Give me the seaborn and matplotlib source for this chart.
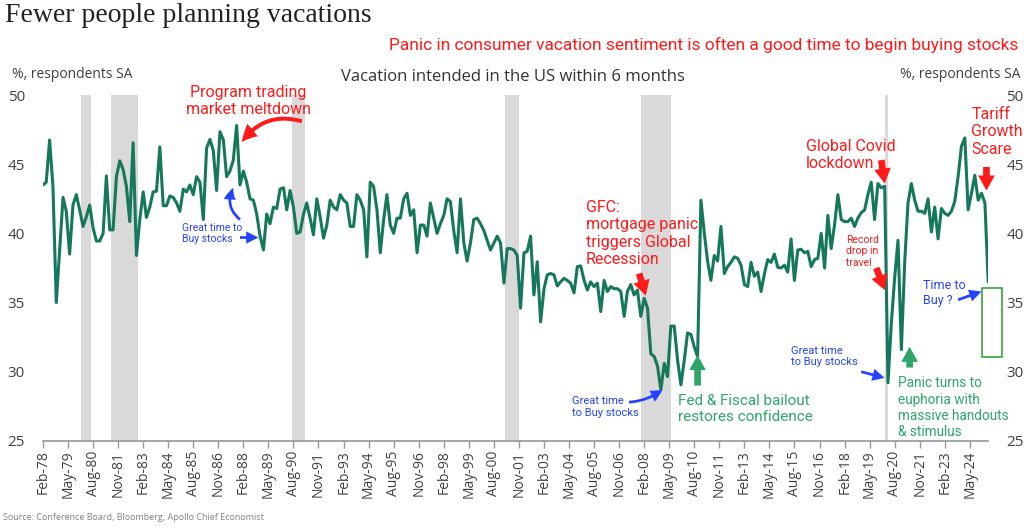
import pandas as pd
import matplotlib
matplotlib.use('Agg')
import matplotlib.pyplot as plt
import matplotlib.dates as mdates
from matplotlib.patches import Rectangle
import seaborn as sns

# ------------------------------------------------------------
# DATA  (bimonthly readings, Feb-78 .. Apr-25, % respondents SA)
# ------------------------------------------------------------
vacation_pct = [
    43.5, 43.7, 46.75, 43.4, 35.0, 38.8, 42.6, 41.6, 38.5, 42.05,
    42.8, 41.7, 40.5, 41.2, 42.05, 40.4, 39.45, 39.45, 40.0, 44.15,
    40.25, 40.25, 44.1, 45.25, 44.6, 43.4, 40.85, 46.55, 38.4, 41.0,
    43.0, 41.15, 41.9, 43.0, 43.05, 46.25, 42.0, 42.0, 42.7, 42.6,
    42.2, 41.6, 43.2, 43.0, 43.5, 42.8, 44.1, 43.7, 41.0, 46.15,
    46.8, 46.0, 43.1, 47.35, 46.75, 44.1, 44.5, 45.3, 47.8, 43.5,
    44.5, 43.7, 42.5, 42.4, 41.4, 39.8, 38.8, 41.4, 40.7, 41.9,
    41.8, 43.2, 43.3, 41.7, 43.1, 41.9, 40.0, 40.1, 41.4, 42.2,
    41.1, 39.9, 42.5, 41.2, 39.65, 40.6, 42.4, 41.9, 41.7, 42.8,
    42.4, 42.2, 40.5, 40.5, 42.8, 42.4, 41.7, 38.3, 43.7, 43.4,
    41.7, 38.6, 41.0, 42.8, 40.6, 40.0, 41.1, 41.1, 42.5, 42.9,
    41.3, 41.7, 38.6, 40.6, 40.6, 39.8, 42.2, 41.1, 40.0, 40.7,
    41.3, 42.5, 42.3, 40.2, 38.6, 42.5, 39.3, 38.0, 39.3, 41.0,
    41.1, 40.7, 40.2, 39.5, 38.8, 39.3, 39.8, 39.3, 36.4, 38.9,
    38.9, 38.8, 38.4, 34.6, 38.6, 38.7, 39.8, 35.55, 37.95, 33.6,
    36.0, 37.0, 37.1, 37.0, 36.2, 36.5, 36.75, 36.6, 36.4, 35.7,
    37.6, 37.65, 36.6, 35.9, 36.5, 36.15, 36.4, 34.35, 36.6, 35.8,
    36.15, 36.0, 36.0, 35.8, 34.0, 35.8, 36.3, 35.55, 35.9, 34.0,
    35.3, 34.6, 31.3, 31.1, 30.4, 28.7, 30.6, 29.65, 33.3, 33.3,
    30.85, 29.05, 30.85, 32.8, 32.7, 31.8, 31.1, 42.4, 40.0, 38.0,
    36.6, 38.4, 38.0, 40.5, 37.1, 37.6, 37.9, 38.3, 38.2, 37.7,
    36.3, 36.15, 37.9, 36.9, 37.2, 35.8, 37.1, 38.1, 37.9, 38.5,
    37.55, 37.5, 37.7, 37.2, 39.6, 36.6, 38.8, 38.85, 38.6, 38.7,
    37.6, 38.1, 38.2, 40.0, 37.5, 41.3, 38.9, 40.6, 42.8, 41.0,
    40.85, 40.85, 41.1, 40.5, 41.1, 41.5, 41.7, 42.8, 43.7, 41.0,
    43.6, 43.3, 43.4, 29.2, 33.5, 36.8, 39.5, 31.6, 38.0, 42.2,
    43.6, 42.4, 41.6, 41.6, 41.45, 42.5, 40.1, 41.9, 39.6, 41.8,
    41.45, 41.3, 41.6, 42.3, 44.1, 46.3, 46.9, 41.7, 42.9, 44.2,
    42.4, 42.9, 42.2, 36.5,
]
dates = pd.date_range('1978-02-01', periods=len(vacation_pct), freq='2MS')

recession_start = ['1980-01-01', '1981-07-01', '1990-07-01', '2001-03-01', '2007-12-01', '2020-02-01']
recession_end = ['1980-07-01', '1982-11-01', '1991-03-01', '2001-11-01', '2009-06-01', '2020-04-01']

tick_dates = pd.date_range('1978-02-01', '2024-05-01', freq='15MS')
y_ticks = [25, 30, 35, 40, 45, 50]

# ------------------------------------------------------------
# STYLE
# ------------------------------------------------------------
sns.set_theme(style='white')
plt.rcParams['font.family'] = ['Open Sans', 'DejaVu Sans']

LINE_COL = '#16785b'
RED = '#ff1a1a'
BLUE = '#2443ff'
GREEN = '#2ea66a'
ANNO_FONT = ['Roboto', 'DejaVu Sans']

fig = plt.figure(figsize=(10.24, 5.28), dpi=100)
ax = fig.add_axes([0.042, 0.165, 0.923, 0.655])

for s, e in zip(recession_start, recession_end):
    ax.axvspan(pd.Timestamp(s), pd.Timestamp(e), color='#d9d9d9', lw=0, zorder=0)

df = pd.DataFrame({'date': dates, 'pct': vacation_pct})
sns.lineplot(data=df, x='date', y='pct', ax=ax, color=LINE_COL, lw=2.2, zorder=3)

ax.set_xlim(dates[0], dates[-1])
ax.set_ylim(25, 50)
ax.set_xticks(tick_dates)
ax.xaxis.set_major_formatter(mdates.DateFormatter('%b-%y'))
ax.tick_params(axis='x', rotation=90, labelsize=10, labelcolor='#404040',
               color='#9a9a9a', length=5, width=1, direction='out', bottom=True, pad=2)
ax.set_yticks(y_ticks)
ax.tick_params(axis='y', labelleft=True, labelright=True, left=False, right=False,
               labelsize=11, labelcolor='#404040', pad=7)
for sp in ['left', 'right', 'top']:
    ax.spines[sp].set_visible(False)
ax.spines['bottom'].set_color('#9a9a9a')
ax.set_xlabel('')
ax.set_ylabel('')
ax.grid(False)

# ------------------------------------------------------------
# HEADERS
# ------------------------------------------------------------
W, H = 1024, 528
fig.text(5 / W, 1 - 16 / H, 'Fewer people planning vacations', family='Liberation Serif',
         fontsize=20, color='#222222', va='center')
fig.text(1018 / W, 1 - 45 / H, 'Panic in consumer vacation sentiment is often a good time to begin buying stocks',
         family=ANNO_FONT, fontsize=12.5, color=RED, ha='right', va='center')
fig.text(12 / W, 1 - 75 / H, '%, respondents SA', fontsize=10, color='#404040', va='center')
fig.text(1020 / W, 1 - 75 / H, '%, respondents SA', fontsize=10, color='#404040', va='center', ha='right')
fig.text(513 / W, 1 - 77 / H, 'Vacation intended in the US within 6 months', fontsize=12,
         color='#333333', va='center', ha='center')
fig.text(3 / W, 1 - 518 / H, 'Source: Conference Board, Bloomberg, Apollo Chief Economist',
         fontsize=6.5, color='#808080', va='center')

# ------------------------------------------------------------
# ANNOTATIONS
# ------------------------------------------------------------
T = pd.Timestamp


def note(x, y, s, color, size, ha='left'):
    ax.text(T(x), y, s, color=color, fontsize=size, family=ANNO_FONT, ha=ha, va='center',
            linespacing=1.2, zorder=5)


def arrow(x0, y0, x1, y1, color, fat=True, rad=0.0):
    if fat:
        style = 'simple,head_length=0.9,head_width=1.0,tail_width=0.4'
        scale = 12
    else:
        style = 'simple,head_length=0.8,head_width=0.8,tail_width=0.18'
        scale = 11
    ax.annotate('', xy=(T(x1), y1), xytext=(T(x0), y0), annotation_clip=False,
                arrowprops=dict(arrowstyle=style, mutation_scale=scale, color=color, lw=0,
                                shrinkA=0, shrinkB=0, connectionstyle=f'arc3,rad={rad}'),
                zorder=6)


note('1988-05-01', 49.55, 'Program trading\nmarket meltdown', RED, 11.5, ha='center')
ax.annotate('', xy=(T('1988-01-01'), 46.6), xytext=(T('1991-01-01'), 48.1), annotation_clip=False,
            arrowprops=dict(arrowstyle='simple,head_length=0.9,head_width=0.9,tail_width=0.22',
                            mutation_scale=13, color=RED, lw=0, shrinkA=0, shrinkB=0,
                            connectionstyle='arc3,rad=0.35'), zorder=6)

note('1985-01-01', 40.0, 'Great time to\nBuy stocks', BLUE, 7.5)
arrow('1987-12-01', 41.0, '1987-08-01', 43.3, BLUE, fat=False, rad=-0.4)
arrow('1987-12-01', 39.7, '1988-11-01', 39.7, BLUE, fat=False)

note('2005-03-01', 40.0, 'GFC:\nmortgage panic\ntriggers Global\nRecession', RED, 11.5)
arrow('2007-11-01', 37.1, '2008-03-01', 35.5, RED)

note('2004-07-01', 27.45, 'Great time\nto Buy stocks', BLUE, 8)
arrow('2007-05-01', 27.8, '2009-01-01', 28.7, BLUE, fat=False, rad=0.15)

note('2009-10-01', 27.3, 'Fed & Fiscal bailout\nrestores confidence', GREEN, 11)
arrow('2010-10-01', 29.0, '2010-10-01', 31.2, GREEN)

note('2016-03-01', 45.65, 'Global Covid\nlockdown', RED, 11.5)
arrow('2019-12-01', 45.3, '2020-02-01', 43.6, RED)

note('2018-03-01', 38.7, 'Record\ndrop in\ntravel', RED, 7.5)
arrow('2019-09-01', 37.5, '2020-02-01', 35.9, RED)

note('2015-06-01', 31.1, 'Great time\nto Buy stocks', BLUE, 8)
arrow('2018-12-01', 30.0, '2020-02-01', 29.55, BLUE, fat=False)

note('2020-10-01', 27.4, 'Panic turns to\neuphoria with\nmassive handouts\n& stimulus', GREEN, 9.8)
arrow('2021-05-01', 30.3, '2021-05-01', 31.8, GREEN)

note('2024-06-01', 47.35, 'Tariff\nGrowth\nScare', RED, 11.5)
arrow('2025-03-01', 44.8, '2025-03-01', 43.1, RED)

note('2022-01-01', 35.7, 'Time to\nBuy ?', BLUE, 9)
arrow('2023-10-01', 35.2, '2024-12-01', 35.8, BLUE, fat=False)

box_x0, box_x1 = T('2024-12-01'), T('2025-12-01')
ax.add_patch(Rectangle((box_x0, 31.07), box_x1 - box_x0, 36.05 - 31.07, fill=False,
                       edgecolor='#3aa53a', lw=1.2, clip_on=False, zorder=6))

fig.savefig('out.png', dpi=100)
